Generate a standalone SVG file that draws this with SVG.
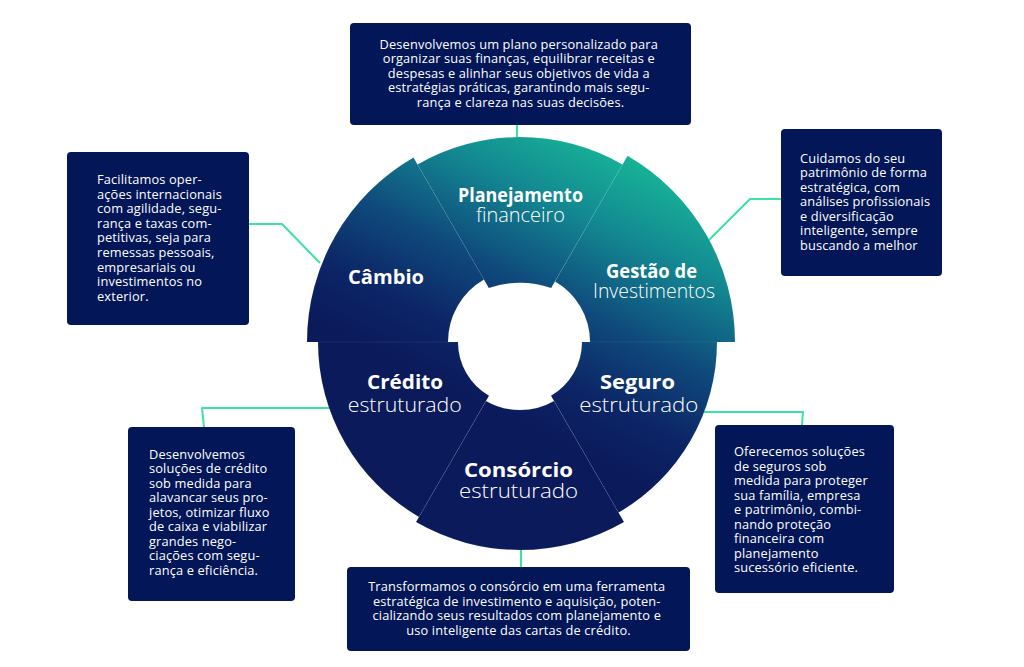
<svg xmlns="http://www.w3.org/2000/svg" width="1024" height="667" viewBox="0 0 1024 667">
  <defs>
    <linearGradient id="wheelGrad" gradientUnits="userSpaceOnUse" x1="600" y1="140" x2="470" y2="400">
      <stop offset="0" stop-color="#17b497"/>
      <stop offset="0.25" stop-color="#138a92"/>
      <stop offset="0.55" stop-color="#0f4a7c"/>
      <stop offset="0.8" stop-color="#0c2566"/>
      <stop offset="1" stop-color="#0b1a5b"/>
    </linearGradient>
  </defs>
  <style>
    .piece { fill: url(#wheelGrad); stroke: #ffffff; stroke-opacity: 0.05; stroke-width: 1; }
    .box { fill: #031658; }
    .desc { font-family: "Open Sans", "Noto Sans", sans-serif; font-size: 12.8px; letter-spacing: 0.15px; fill: #ffffff; }
    .mid { text-anchor: middle; }
    .lbl-b { font-family: "Open Sans", "Noto Sans", sans-serif; font-weight: 700; font-size: 20px; fill: #ffffff; text-anchor: middle; }
    .lbl-l { font-family: "Open Sans", "Noto Sans", sans-serif; font-weight: 300; font-size: 21px; fill: #ffffff; text-anchor: middle; }
    .conn { fill: none; stroke: #3ae3a2; stroke-width: 2; stroke-linejoin: round; }
  </style>
  <rect width="1024" height="667" fill="#ffffff"/>

  <g id="connectors">
    <path class="conn" d="M517,125 L517,139"/>
    <path class="conn" d="M249,224 L282,224 L320,263"/>
    <path class="conn" d="M781,199 L750,199 L707,242"/>
    <path class="conn" d="M204,427 L202,408 L330,408"/>
    <path class="conn" d="M802,425 L803,412 L704,412"/>
    <path class="conn" d="M521,548 L521,567"/>
  </g>

  <g id="wheel">
    <g id="node-planejamento">
      <path class="piece" d="M417.5,164.5 A205,205 0 0 1 622.5,164.5 L551.2,288 A99,99 0 0 0 488.8,288 Z"/>
      <text class="lbl-b" x="520.5" y="202" textLength="125" lengthAdjust="spacingAndGlyphs">Planejamento</text>
      <text class="lbl-l" x="520.5" y="222" textLength="89" lengthAdjust="spacingAndGlyphs">financeiro</text>
    </g>
    <g id="node-gestao">
      <path class="piece" d="M627.5,155.8 A215,215 0 0 1 735,342 L590,342 A70,70 0 0 0 555,281.4 Z"/>
      <text class="lbl-b" x="651.5" y="278" textLength="91" lengthAdjust="spacingAndGlyphs">Gestão de</text>
      <text class="lbl-l" x="654" y="298" textLength="122" lengthAdjust="spacingAndGlyphs">Investimentos</text>
    </g>
    <g id="node-seguro">
      <path class="piece" d="M717,342 A197,197 0 0 1 618.5,512.6 L551,395.7 A62,62 0 0 0 582,342 Z"/>
      <text class="lbl-b" x="637.5" y="389" textLength="75" lengthAdjust="spacingAndGlyphs">Seguro</text>
      <text class="lbl-l" x="638.7" y="411.5" textLength="119" lengthAdjust="spacingAndGlyphs">estruturado</text>
    </g>
    <g id="node-consorcio">
      <path class="piece" d="M624,522.1 A208,208 0 0 1 416,522.1 L486,400.9 A68,68 0 0 0 554,400.9 Z"/>
      <text class="lbl-b" x="518.5" y="476.5" textLength="109" lengthAdjust="spacingAndGlyphs">Consórcio</text>
      <text class="lbl-l" x="518.5" y="498" textLength="119" lengthAdjust="spacingAndGlyphs">estruturado</text>
    </g>
    <g id="node-credito">
      <path class="piece" d="M419,516.9 A202,202 0 0 1 318,342 L458,342 A62,62 0 0 0 489,395.7 Z"/>
      <text class="lbl-b" x="405" y="389" textLength="76" lengthAdjust="spacingAndGlyphs">Crédito</text>
      <text class="lbl-l" x="404.7" y="411.5" textLength="114" lengthAdjust="spacingAndGlyphs">estruturado</text>
    </g>
    <g id="node-cambio">
      <path class="piece" d="M307,342 A213,213 0 0 1 413.5,157.5 L484,279.6 A72,72 0 0 0 448,342 Z"/>
      <text class="lbl-b" x="386" y="284" textLength="76" lengthAdjust="spacingAndGlyphs">Câmbio</text>
    </g>
  </g>

  <g id="box-planejamento">
    <rect class="box" x="350" y="23" width="341" height="102" rx="4"/>
    <text class="desc mid">
      <tspan x="520.5" y="48.5">Desenvolvemos um plano personalizado para</tspan>
      <tspan x="520.5" y="63">organizar suas finanças, equilibrar receitas e</tspan>
      <tspan x="520.5" y="77.5">despesas e alinhar seus objetivos de vida a</tspan>
      <tspan x="520.5" y="92">estratégias práticas, garantindo mais segu-</tspan>
      <tspan x="520.5" y="106.5">rança e clareza nas suas decisões.</tspan>
    </text>
  </g>

  <g id="box-cambio">
    <rect class="box" x="67" y="152" width="182" height="173" rx="4"/>
    <text class="desc">
      <tspan x="97" y="184">Facilitamos oper-</tspan>
      <tspan x="97" y="198.6">ações internacionais</tspan>
      <tspan x="97" y="213.2">com agilidade, segu-</tspan>
      <tspan x="97" y="227.8">rança e taxas com-</tspan>
      <tspan x="97" y="242.4">petitivas, seja para</tspan>
      <tspan x="97" y="257">remessas pessoais,</tspan>
      <tspan x="97" y="271.6">empresariais ou</tspan>
      <tspan x="97" y="286.2">investimentos no</tspan>
      <tspan x="97" y="300.8">exterior.</tspan>
    </text>
  </g>

  <g id="box-gestao">
    <rect class="box" x="781" y="129" width="161" height="147" rx="4"/>
    <text class="desc">
      <tspan x="800" y="162.5">Cuidamos do seu</tspan>
      <tspan x="800" y="177">patrimônio de forma</tspan>
      <tspan x="800" y="191.5">estratégica, com</tspan>
      <tspan x="800" y="206">análises profissionais</tspan>
      <tspan x="800" y="220.5">e diversificação</tspan>
      <tspan x="800" y="235">inteligente, sempre</tspan>
      <tspan x="800" y="249.5">buscando a melhor</tspan>
    </text>
  </g>

  <g id="box-credito">
    <rect class="box" x="128" y="427" width="167" height="174" rx="4"/>
    <text class="desc">
      <tspan x="149" y="458.5">Desenvolvemos</tspan>
      <tspan x="149" y="473">soluções de crédito</tspan>
      <tspan x="149" y="487.5">sob medida para</tspan>
      <tspan x="149" y="502">alavancar seus pro-</tspan>
      <tspan x="149" y="516.5">jetos, otimizar fluxo</tspan>
      <tspan x="149" y="531">de caixa e viabilizar</tspan>
      <tspan x="149" y="545.5">grandes nego-</tspan>
      <tspan x="149" y="560">ciações com segu-</tspan>
      <tspan x="149" y="574.5">rança e eficiência.</tspan>
    </text>
  </g>

  <g id="box-seguro">
    <rect class="box" x="715" y="425" width="179" height="168" rx="4"/>
    <text class="desc">
      <tspan x="734" y="456">Oferecemos soluções</tspan>
      <tspan x="734" y="470.5">de seguros sob</tspan>
      <tspan x="734" y="485">medida para proteger</tspan>
      <tspan x="734" y="499.5">sua família, empresa</tspan>
      <tspan x="734" y="514">e patrimônio, combi-</tspan>
      <tspan x="734" y="528.5">nando proteção</tspan>
      <tspan x="734" y="543">financeira com</tspan>
      <tspan x="734" y="557.5">planejamento</tspan>
      <tspan x="734" y="572">sucessório eficiente.</tspan>
    </text>
  </g>

  <g id="box-consorcio">
    <rect class="box" x="347" y="567" width="343" height="84" rx="4"/>
    <text class="desc mid">
      <tspan x="518.5" y="591">Transformamos o consórcio em uma ferramenta</tspan>
      <tspan x="518.5" y="605.5">estratégica de investimento e aquisição, poten-</tspan>
      <tspan x="518.5" y="620">cializando seus resultados com planejamento e</tspan>
      <tspan x="518.5" y="634.5">uso inteligente das cartas de crédito.</tspan>
    </text>
  </g>
</svg>
